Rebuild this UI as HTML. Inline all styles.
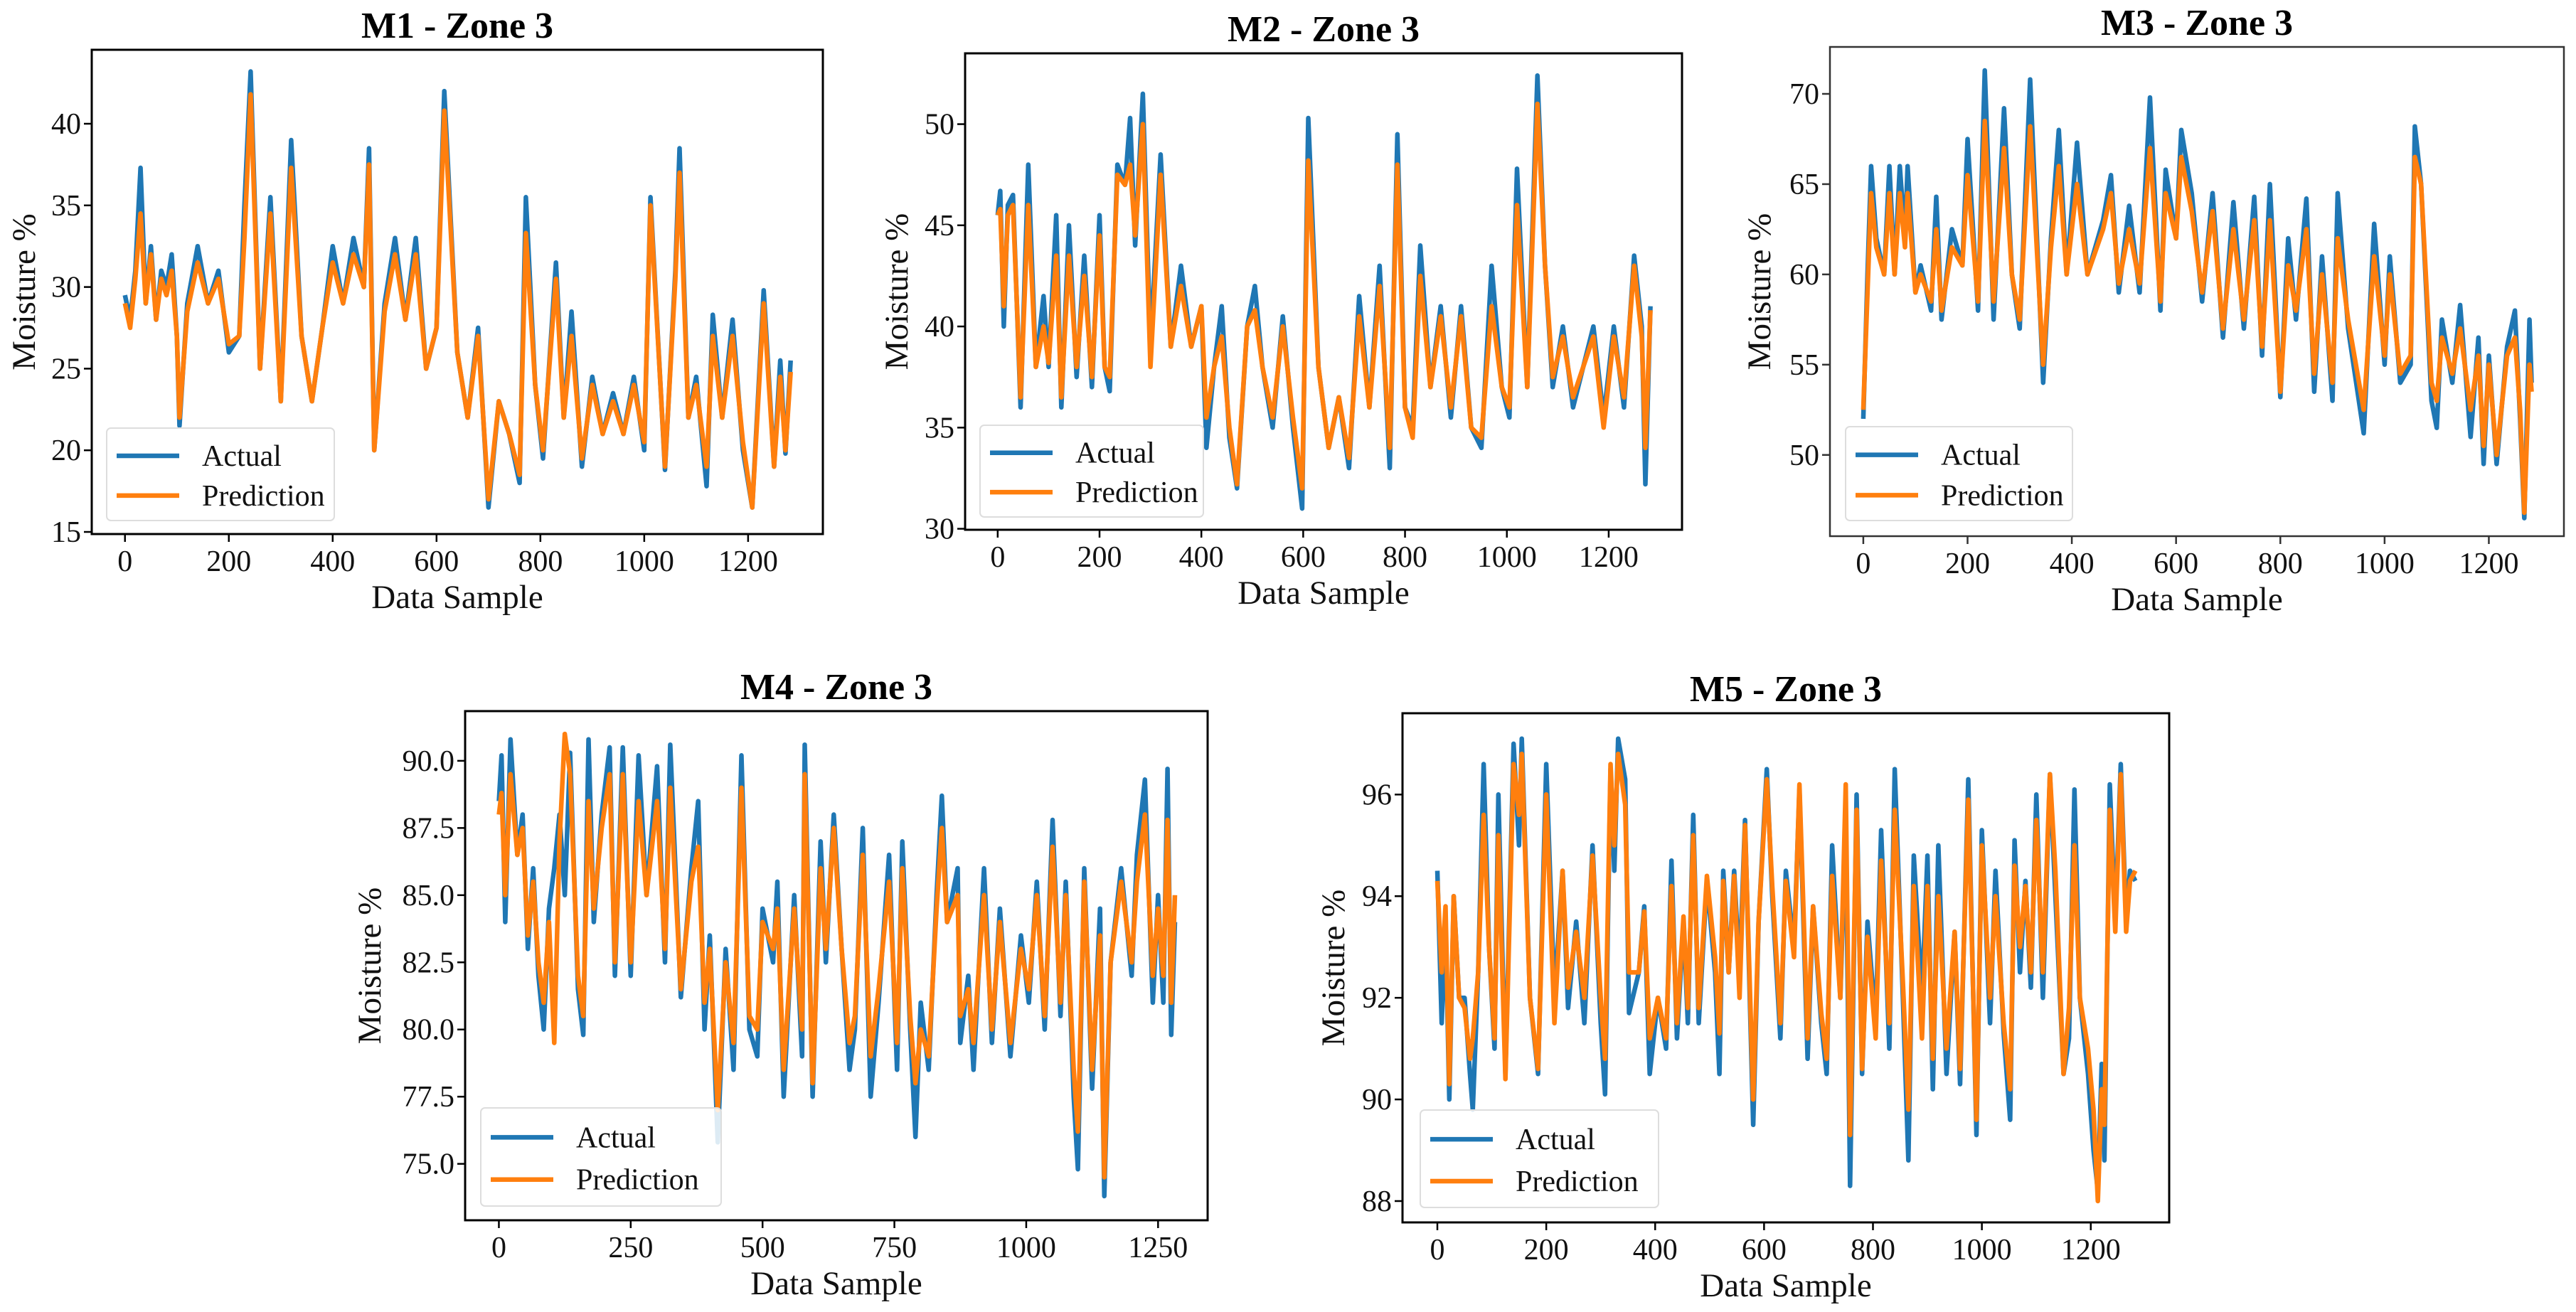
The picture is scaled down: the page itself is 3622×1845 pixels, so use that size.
<!DOCTYPE html>
<html><head><meta charset="utf-8"><style>
html,body{margin:0;padding:0;background:#fff;}
svg{display:block;font-family:"Liberation Serif","DejaVu Serif",serif;}
</style></head><body>
<svg id="fig" width="3622" height="1845" viewBox="0 0 3622 1845" xmlns="http://www.w3.org/2000/svg"></svg>
<script>
// ---- data (sample index, actual, prediction) ----
const m1Idx=[0,10,20,30,40,50,60,70,80,90,100,105,120,140,160,180,200,220,230,242,260,280,300,320,340,360,380,400,420,440,460,470,480,500,520,540,560,580,600,615,640,660,680,700,720,740,760,772,790,805,830,845,860,880,900,920,940,960,980,1000,1012,1040,1060,1068,1085,1100,1120,1132,1150,1170,1190,1208,1230,1250,1262,1272,1282];
const m1Actual=[29.5,28,31,37.3,29,32.5,28,31,30,32,27,21.5,29,32.5,29,31,26,27,35,43.2,25,35.5,23,39,27,23,27.5,32.5,29,33,30,38.5,20,29,33,28,33,25,27.5,42,26,22,27.5,16.5,23,21,18,35.5,24,19.5,31.5,22,28.5,19,24.5,21,23.5,21,24.5,20,35.5,18.8,31,38.5,22,24.5,17.8,28.3,22,28,20,16.5,29.8,19,25.5,19.8,25.5];
const m1Pred=[29,27.5,30.5,34.5,29,32,28,30.5,29.5,31,27,22,28.5,31.5,29,30.5,26.5,27,33,41.8,25,34.5,23,37.3,27,23,27.5,31.5,29,32,30,37.5,20,28.5,32,28,32,25,27.5,40.8,26,22,27,17,23,21,18.5,33.3,24,20,30.5,22,27,19.5,24,21,23,21,24,20.5,35,19,30.5,37,22,24,19,27,22,27,20.5,16.5,29,19,24.5,20,24.8];

const m2Idx=[0,5,12,20,30,45,60,75,90,100,115,125,140,155,170,185,200,210,220,235,250,260,270,285,300,320,340,360,380,400,410,425,440,455,470,490,505,520,540,560,580,598,610,630,650,670,690,710,730,750,770,785,800,815,830,850,870,890,910,930,950,970,990,1005,1020,1040,1060,1075,1090,1110,1130,1150,1170,1190,1210,1230,1250,1265,1272,1282];
const m2Actual=[45.5,46.7,40,46,46.5,36,48,38,41.5,38,45.5,36,45,37.5,43.5,37,45.5,38,36.8,48,47,50.3,44,51.5,39,48.5,39,43,39,41,34,38,41,34.5,32,40,42,38,35,40.5,35,31,50.3,38,34,36.5,33,41.5,36,43,33,49.5,36,35,44,37,41,35.5,41,35,34,43,37,35.5,47.8,37,52.4,43,37,40,36,38,40,35.5,40,36,43.5,40,32.2,41];
const m2Pred=[45.5,45.8,41,45.5,46,36.5,46,38,40,38.2,43.5,36.5,43.5,38,42.5,37.5,44.5,38,37.5,47.5,47,48,44.5,50,38,47.5,39,42,39,41,35.5,38,39.5,35,32.2,40,40.8,38,35.5,40,35.5,32,48.2,38,34,36.5,33.5,40.5,36,42,34,48,36,34.5,42.5,37,40.5,36,40.5,35,34.5,41,37,36,46,37,51,43,37.5,39.5,36.5,38,39.5,35,39.5,36.5,43,39.5,34,40.8];

const m3Idx=[0,8,15,25,40,50,60,70,80,85,100,110,130,140,150,170,190,200,220,233,250,270,285,300,320,345,360,375,390,410,430,460,475,490,510,530,550,570,580,600,610,630,650,670,690,710,730,750,765,780,800,815,830,850,865,880,900,910,930,960,980,1000,1010,1030,1050,1058,1070,1090,1100,1110,1130,1145,1165,1180,1190,1200,1215,1235,1250,1260,1268,1278,1282];
const m3Actual=[52,60,66,62,60,66,60,66,62,66,59,60.5,58,64.3,57.5,62.5,60.5,67.5,58,71.3,57.5,69.2,60,57,70.8,54,62,68,60,67.3,60,63,65.5,59,63.8,59,69.8,58,65.8,62,68,64.5,58.5,64.5,56.5,64,57,64.3,55.5,65,53.2,62,57.5,64.2,53.5,61,53,64.5,57,51.2,62.8,55,61,54,55,68.2,65,53,51.5,57.5,54,58.3,51,56.5,49.5,55.5,49.5,56,58,52,46.5,57.5,54];
const m3Pred=[52.5,59,64.5,61.5,60,64.5,60,64.5,61.5,64.5,59,60,58.5,62.5,58,61.5,60.5,65.5,58.5,68.5,58.5,67,60,57.5,68.2,55,61.5,66,60,65,60,62.5,64.5,59.5,62.5,59.5,67,58.5,64.5,62,66.5,63.5,59,63.5,57,62.5,57.5,63,56,63,53.5,60.5,58,62.5,54.5,60,54,62,57.5,52.5,61,55.5,60,54.5,55.5,66.5,65,54,53,56.5,54.5,57,52.5,55.5,50.5,55,50,55.5,56.5,52.5,46.8,55,53.5];

const m4Idx=[0,5,12,22,35,45,55,65,75,85,95,105,115,125,135,150,160,170,180,195,210,220,235,250,265,280,300,315,325,345,365,378,390,400,415,430,445,460,475,490,500,520,528,540,560,575,580,595,610,620,635,650,665,675,690,705,720,740,755,765,780,790,800,815,830,840,850,870,875,890,900,920,935,950,970,990,1005,1020,1035,1050,1065,1075,1090,1098,1110,1125,1140,1148,1160,1180,1200,1210,1225,1240,1250,1260,1268,1275,1282];
const m4Actual=[88.5,90.2,84,90.8,86.5,88,83,86,82,80,84.5,86,88,85,90.3,81.5,79.8,90.8,84,88,90.5,82,90.5,82,90.2,85,89.8,82.5,90.6,81.2,86,88.5,80,83.5,75.8,83,78.5,90.2,80,79,84.5,82.5,85.5,77.5,85,79,90.6,77.5,87,82.5,88,83,78.5,80,87.5,77.5,81,86.5,78.5,87,80,76,81,78.5,85,88.7,84,86,79.5,82,78.5,86,79.5,84.5,79,83.5,81,85.5,80,87.8,80.5,85.5,77.5,74.8,86,77.8,84.5,73.8,82.5,86,82,86.5,89.3,81,85,81,89.7,79.8,84];
const m4Pred=[88,88.8,85,89.5,86.5,87.5,83.5,85.5,82.5,81,84,79.5,87,91,89.5,82,80.5,88.5,84.5,87.5,89.5,82.5,89.5,82.5,88.5,85,88.5,83,89,81.5,85.5,86.8,81,83,77,82.5,79.5,89,80.5,80,84,83,84.5,78.5,84.5,80,89.5,78,86,83,87.5,83,79.5,80.5,86.5,79,81.5,85.5,79.5,86,80.5,78,80,79,84.5,87.5,84,85,80.5,81.5,79.5,85,80,84,79.5,83,81.5,85,80.5,86.8,81,85,78.5,76.2,85.5,78.5,83.5,74.5,82.5,85.5,82.5,85.5,88,82,84.5,82,87.8,81,85];

const m5Idx=[0,8,15,22,30,40,50,60,65,75,85,95,105,112,125,140,150,155,170,185,200,215,230,240,255,270,285,300,308,318,325,332,345,352,370,380,390,405,420,430,440,452,460,470,480,495,510,518,525,535,545,555,565,580,590,605,615,630,640,655,665,680,690,705,715,725,740,750,758,770,780,790,805,815,830,840,855,865,875,890,900,910,920,935,950,960,975,990,1000,1015,1025,1040,1052,1060,1070,1080,1090,1100,1112,1125,1135,1150,1160,1170,1180,1195,1205,1213,1220,1225,1235,1245,1255,1265,1272,1282];
const m5Actual=[94.5,91.5,93.5,90,94,92,92,90.5,89.8,92.5,96.6,93,91,96,90.5,97,95,97.1,92,90.5,96.6,92,94.5,91.8,93.5,91.5,95,91.5,90.1,96.5,94.5,97.1,96.3,91.7,92.5,93.8,90.5,92,91,94.7,91.2,93.5,91.5,95.6,91.5,94.3,92.5,90.5,94.5,92.5,94.5,92.5,95.5,89.5,93.5,96.5,94,91.2,94.5,93,96.1,90.8,93.8,91.5,90.5,95,92,95.5,88.3,96,90.5,93.5,91.5,95.3,91,96.5,92,88.8,94.8,92,94.8,90.2,95,90.5,93.3,90.3,96.3,89.3,95.3,91.5,94.5,91.3,89.6,95.1,92.5,94.3,92.2,96,92,96.4,94,90.5,91.2,96.1,92,90.5,89,88.2,90.7,88.8,96.2,93.5,96.6,93.5,94.5,94.3];
const m5Pred=[94.3,92.5,93.8,90.3,94,92,91.8,90.8,91.2,92.5,95.6,93,91.2,95.2,90.4,96.6,95.6,96.8,92,90.6,96,91.5,94.5,92.2,93.3,92,94.8,92,90.8,96.6,95,96.8,95.8,92.5,92.5,93.7,91.2,92,91.2,94.2,91.5,93.6,91.8,95.2,91.8,94.4,92.8,91.3,94.3,92.5,94.4,92,95.4,90,93.5,96.3,94.2,91.5,94.3,92.8,96.2,91.2,93.8,91.7,90.8,94.4,92,96.2,89.3,95.7,90.6,93.2,91.2,94.7,91.5,95.7,92.3,89.8,94.2,91.2,94.2,90.8,94,91,93.3,90.6,95.9,89.6,95,92,94,91.5,90.2,94.6,93,94.2,92.5,95.5,92.5,96.4,94.5,90.5,91.8,95,92,91,89.8,88,90.2,89.5,95.7,93.3,96.4,93.3,94.3,94.5];

const m1YTicks=[15,20,25,30,35,40];
const m2YTicks=[30,35,40,45,50];
const m3YTicks=[50,55,60,65,70];
const m4YTicks=[75,77.5,80,82.5,85,87.5,90];
const m5YTicks=[88,90,92,94,96];
const xTicksA=[0,200,400,600,800,1000,1200];
const xTicksB=[0,250,500,750,1000,1250];

// ---- layout ----
const charts=[
 {key:'m1',title:'M1 - Zone 3',L:129,R:1157,T:70,B:751,ylim:[14.87,44.53],idx:m1Idx,a:m1Actual,p:m1Pred,yt:m1YTicks,xt:xTicksA,dec:0,yl:95,leg:[150,602,320,130],col:'#000',lw:3},
 {key:'m2',title:'M2 - Zone 3',L:1357,R:2365,T:75,B:745,ylim:[29.95,53.5],idx:m2Idx,a:m2Actual,p:m2Pred,yt:m2YTicks,xt:xTicksA,dec:0,yl:96,leg:[1378,598,314,129],col:'#000',lw:3},
 {key:'m3',title:'M3 - Zone 3',L:2573,R:3605,T:66,B:754,ylim:[45.5,72.6],idx:m3Idx,a:m3Actual,p:m3Pred,yt:m3YTicks,xt:xTicksA,dec:0,yl:99,leg:[2595,600,319,132],col:'#333',lw:2.5},
 {key:'m4',title:'M4 - Zone 3',L:654,R:1698,T:1000,B:1716,ylim:[72.9,91.85],idx:m4Idx,a:m4Actual,p:m4Pred,yt:m4YTicks,xt:xTicksB,dec:1,yl:134,leg:[676,1558,338,138],col:'#000',lw:3},
 {key:'m5',title:'M5 - Zone 3',L:1972,R:3050,T:1003,B:1719,ylim:[87.58,97.6],idx:m5Idx,a:m5Actual,p:m5Pred,yt:m5YTicks,xt:xTicksA,dec:0,yl:97,leg:[1997,1561,335,137],col:'#000',lw:3}
];
const NS='http://www.w3.org/2000/svg';
const svg=document.getElementById('fig');
function mk(tag,attrs,parent,text){const e=document.createElementNS(NS,tag);for(const k in attrs)e.setAttribute(k,attrs[k]);if(text!==undefined)e.textContent=text;parent.appendChild(e);return e;}

charts.forEach(c=>{
  const g=mk('g',{},svg);
  
  
  const xs=v=>c.L+(v+64)/(1344+64)*(c.R-c.L);
  const ys=v=>c.B-(v-c.ylim[0])/(c.ylim[1]-c.ylim[0])*(c.B-c.T);
  const t=mk('text',{x:(c.L+c.R)/2,y:c.T-17,'text-anchor':'middle','font-size':52,'font-weight':'bold',fill:'#000'},g,c.title);
  
  
  const clip=mk('clipPath',{id:'clip-'+c.key},g);
  mk('rect',{x:c.L,y:c.T,width:c.R-c.L,height:c.B-c.T},clip);
  [['a','#1f77b4','actual-line'],['p','#ff7f0e','prediction-line']].forEach(s=>{
    const arr=c[s[0]];
    const d=c.idx.map((ix,i)=>(i?'L':'M')+xs(ix).toFixed(1)+' '+ys(arr[i]).toFixed(1)).join(' ');
    const pth=mk('path',{d:d,fill:'none',stroke:s[1],'stroke-width':6.5,'stroke-linejoin':'round','clip-path':'url(#clip-'+c.key+')'},g);
    
    
  });
  const fr=mk('rect',{x:c.L,y:c.T,width:c.R-c.L,height:c.B-c.T,fill:'none',stroke:c.col,'stroke-width':c.lw},g);
  
  
  c.yt.forEach(v=>{
    const y=ys(v);
    mk('line',{x1:c.L-11,x2:c.L,y1:y,y2:y,stroke:c.col,'stroke-width':2.5},g);
    const tl=mk('text',{x:c.L-15,y:y+14,'text-anchor':'end','font-size':42,fill:'#111'},g,v.toFixed(c.dec));
    
    
  });
  c.xt.forEach(v=>{
    const x=xs(v);
    mk('line',{x1:x,x2:x,y1:c.B,y2:c.B+11,stroke:c.col,'stroke-width':2.5},g);
    const tl=mk('text',{x:x,y:c.B+52,'text-anchor':'middle','font-size':42,fill:'#111'},g,String(v));
    
    
  });
  const xl=mk('text',{x:(c.L+c.R)/2,y:c.B+104,'text-anchor':'middle','font-size':47,fill:'#111'},g,'Data Sample');
  
  
  const cy=(c.T+c.B)/2, cx=c.L-c.yl;
  const yl=mk('text',{x:cx,y:cy,'text-anchor':'middle','dominant-baseline':'central','font-size':47,fill:'#111',transform:'rotate(-90 '+cx+' '+cy+')'},g,'Moisture %');
  
  
  const [lx,ly,lw,lh]=c.leg;
  const lg=mk('g',{},g);
  
  
  mk('rect',{x:lx,y:ly,width:lw,height:lh,rx:6,fill:'#fff','fill-opacity':0.85,stroke:'#ddd','stroke-width':2},lg);
  [['Actual','#1f77b4',0.3],['Prediction','#ff7f0e',0.73]].forEach(e=>{
    const yy=ly+lh*e[2];
    const eg=mk('g',{},lg);
    
    
    mk('line',{x1:lx+14,x2:lx+102,y1:yy,y2:yy,stroke:e[1],'stroke-width':6.5},eg);
    mk('text',{x:lx+134,y:yy+14,'font-size':42,fill:'#111'},eg,e[0]);
  });
});
</script>
</body></html>
